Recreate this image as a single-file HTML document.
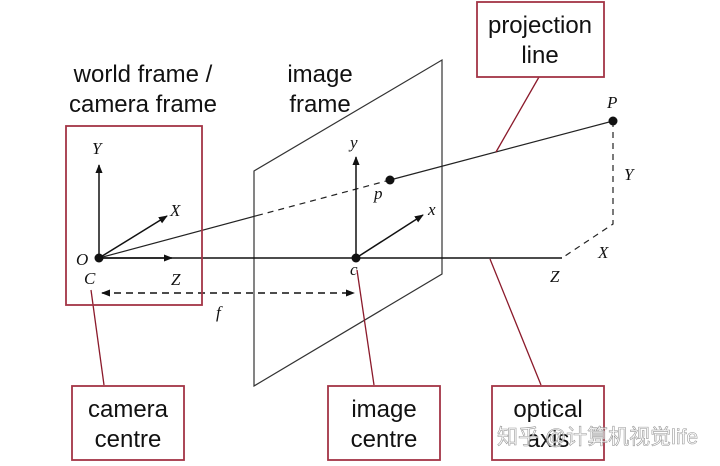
<!DOCTYPE html>
<html><head><meta charset="utf-8">
<style>
html,body{margin:0;padding:0;background:#fff;}
svg{display:block;}
.lab{font-family:"Liberation Sans",sans-serif;font-size:24px;fill:#111;text-anchor:middle;}
.it{font-family:"Liberation Serif",serif;font-style:italic;font-size:17px;fill:#111;}
</style></head>
<body>
<svg width="720" height="466" viewBox="0 0 720 466">
<defs>
<marker id="ar" viewBox="0 0 10 10" refX="9" refY="5" markerWidth="9" markerHeight="9" orient="auto-start-reverse" markerUnits="userSpaceOnUse"><path d="M0,1 L10,5 L0,9 Z" fill="#111"/></marker>
</defs>
<polygon points="254,171 442,60 442,274 254,386" fill="none" stroke="#333" stroke-width="1.2"/>
<line x1="99" y1="258" x2="562" y2="258" stroke="#111" stroke-width="1.5"/>
<line x1="99" y1="258" x2="172" y2="258" stroke="#111" stroke-width="1.5" marker-end="url(#ar)"/>
<line x1="99" y1="258" x2="99" y2="165" stroke="#111" stroke-width="1.5" marker-end="url(#ar)"/>
<line x1="99" y1="258" x2="167" y2="216" stroke="#111" stroke-width="1.5" marker-end="url(#ar)"/>
<line x1="99" y1="258" x2="257" y2="215.6" stroke="#222" stroke-width="1.2"/>
<line x1="257" y1="215.6" x2="390" y2="180" stroke="#222" stroke-width="1.2" stroke-dasharray="6,5"/>
<line x1="390" y1="180" x2="613" y2="121" stroke="#222" stroke-width="1.2"/>
<polyline points="613,121 613,224 562,258" fill="none" stroke="#222" stroke-width="1.2" stroke-dasharray="6,5"/>
<line x1="356" y1="258" x2="356" y2="157" stroke="#111" stroke-width="1.5" marker-end="url(#ar)"/>
<line x1="356" y1="258" x2="423" y2="215" stroke="#111" stroke-width="1.5" marker-end="url(#ar)"/>
<line x1="102" y1="293" x2="354" y2="293" stroke="#111" stroke-width="1.5" stroke-dasharray="7,5" marker-start="url(#ar)" marker-end="url(#ar)"/>
<circle cx="99" cy="258" r="4.5" fill="#111"/>
<circle cx="356" cy="258" r="4.5" fill="#111"/>
<circle cx="390" cy="180" r="4.5" fill="#111"/>
<circle cx="613" cy="121" r="4.5" fill="#111"/>
<text class="it" x="92" y="154">Y</text>
<text class="it" x="170" y="216">X</text>
<text class="it" x="76" y="265">O</text>
<text class="it" x="84" y="284">C</text>
<text class="it" x="171" y="285">Z</text>
<text class="it" x="350" y="148">y</text>
<text class="it" x="428" y="215">x</text>
<text class="it" x="350" y="275">c</text>
<text class="it" x="374" y="199">p</text>
<text class="it" x="607" y="108">P</text>
<text class="it" x="624" y="180">Y</text>
<text class="it" x="598" y="258">X</text>
<text class="it" x="550" y="282">Z</text>
<text class="it" x="216" y="318">f</text>
<g stroke="#8b1a2b" stroke-width="1.3">
<line x1="91" y1="290" x2="104" y2="385"/>
<line x1="357" y1="270" x2="374" y2="385"/>
<line x1="490" y1="259" x2="541" y2="385"/>
<line x1="539" y1="77" x2="496" y2="152"/>
</g>
<g fill="none" stroke="#a33445" stroke-width="1.8">
<rect x="66" y="126" width="136" height="179"/>
<rect x="72" y="386" width="112" height="74"/>
<rect x="328" y="386" width="112" height="74"/>
<rect x="492" y="386" width="112" height="74"/>
<rect x="477" y="2" width="127" height="75"/>
</g>
<text class="lab" x="143" y="82">world frame /</text>
<text class="lab" x="143" y="112">camera frame</text>
<text class="lab" x="320" y="82">image</text>
<text class="lab" x="320" y="112">frame</text>
<text class="lab" x="540" y="33">projection</text>
<text class="lab" x="540" y="63">line</text>
<text class="lab" x="128" y="417">camera</text>
<text class="lab" x="128" y="447">centre</text>
<text class="lab" x="384" y="417">image</text>
<text class="lab" x="384" y="447">centre</text>
<text class="lab" x="548" y="417">optical</text>
<text class="lab" x="548" y="447">axis</text>
<text x="497" y="444" font-family="'Liberation Sans','Noto Sans CJK SC',sans-serif" font-size="21" fill="#fff" fill-opacity="0.7" stroke="#999" stroke-width="0.6">知乎 @计算机视觉life</text>
</svg>
</body></html>
